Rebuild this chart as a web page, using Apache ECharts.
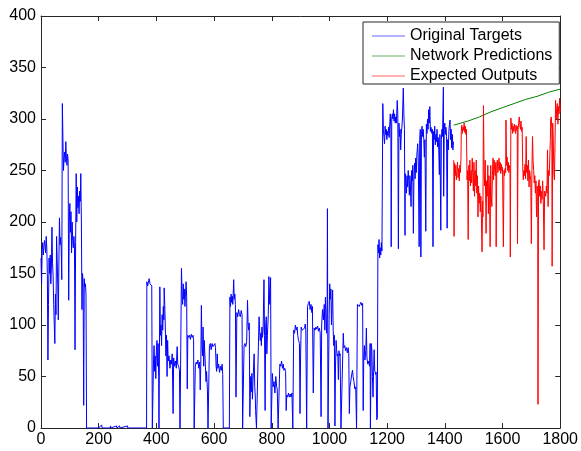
<!DOCTYPE html>
<html>
<head>
<meta charset="utf-8">
<title>Targets vs predictions</title>
<script src="https://cdn.jsdelivr.net/npm/echarts@6/dist/echarts.min.js"></script>
<style>
  html, body { margin: 0; padding: 0; background: #fff; }
  #chart { width: 581px; height: 451px; }
</style>
</head>
<body>
<div id="chart"></div>
<script>
// -- Axis ranges --
const X_TICKS = [0, 200, 400, 600, 800, 1000, 1200, 1400, 1600, 1800];
const Y_TICKS = [0, 50, 100, 150, 200, 250, 300, 350, 400];

// -- Series names --
const SERIES_NAMES = ['Original Targets', 'Network Predictions', 'Expected Outputs'];

// -- Original targets [step, value] --
const targets = [
  [0,165],[2,140],[4,172],[6,180],[8,168],[10,175],[12,182],[14,178],[16,170],[18,186],[20,176],[22,150],
  [24,66],[26,120],[28,165],[30,150],[32,168],[34,140],[36,155],[38,195],[40,160],[42,148],[44,120],[46,100],
  [48,82],[50,130],[52,110],[54,186],[56,165],[58,140],[60,105],[62,160],[64,204],[66,178],[68,185],[70,175],
  [72,144],[74,315],[76,280],[78,250],[80,262],[82,268],[84,258],[86,278],[88,262],[90,255],[92,266],[94,260],
  [96,124],[98,200],[100,218],[102,190],[104,210],[106,170],[108,200],[110,182],[112,175],[114,186],[116,176],
  [118,76],[120,180],[122,247],[124,200],[126,234],[128,214],[130,225],[132,208],[134,230],[136,220],[138,247],
  [140,200],[142,115],[144,150],[146,140],[148,22],[150,145],[152,137],[154,140],[156,130],[158,0],
  [200,0],[210,3],[212,0],[240,0],[241,2],[242,0],[262,2],[263,0],[272,2],[274,0],[300,2],[301,0],[366,0],
  [367,142],[370,138],[373,143],[375,145],[378,140],[381,141],[384,138],[386,0],[389,0],[390,63],[392,80],
  [394,55],[396,70],[398,48],[400,75],[402,85],[404,60],[406,82],[408,50],[409,0],[411,0],[412,137],[414,90],
  [416,100],[418,80],[420,110],[422,95],[424,118],[426,105],[427,136],[429,120],[431,98],[433,70],[435,90],
  [437,50],[439,85],[441,65],[444,70],[447,58],[450,66],[452,62],[455,72],[458,14],[460,68],[463,60],[466,65],
  [469,58],[472,79],[474,62],[477,60],[480,56],[482,0],[485,0],[487,155],[489,130],[491,120],[493,140],
  [495,125],[497,135],[499,118],[501,130],[503,142],[505,128],[507,38],[509,90],[512,88],[515,90],[518,86],
  [521,91],[524,88],[527,90],[529,86],[531,0],[533,0],[535,60],[538,64],[541,62],[544,66],[547,58],[550,64],
  [552,37],[554,62],[556,119],[558,80],[560,70],[562,98],[564,60],[566,85],[568,72],[570,60],[572,45],
  [574,55],[577,37],[579,0],[582,0],[584,80],[587,82],[590,76],[593,82],[596,79],[600,79],[603,82],[605,78],
  [607,60],[609,55],[611,72],[613,58],[616,62],[619,54],[622,60],[625,56],[628,62],[630,52],[632,0],[653,0],
  [655,127],[657,118],[659,130],[661,122],[663,128],[665,120],[667,135],[668,144],[670,125],[672,130],
  [674,120],[676,30],[679,112],[682,108],[685,115],[688,110],[691,108],[694,114],[697,110],[699,0],[702,0],
  [704,80],[707,82],[710,79],[713,84],[716,124],[718,100],[720,95],[722,102],[724,11],[727,50],[729,35],
  [731,53],[733,28],[735,45],[737,60],[739,72],[741,40],[743,30],[744,17],[747,0],[752,0],[756,108],[758,95],
  [760,85],[762,92],[764,80],[766,98],[768,88],[770,95],[773,144],[775,90],[777,17],[779,100],[781,108],
  [783,72],[785,90],[788,110],[790,147],[793,120],[796,146],[798,0],[801,0],[802,53],[805,40],[808,45],
  [811,34],[814,50],[817,40],[819,38],[822,0],[826,0],[828,62],[831,60],[834,65],[837,58],[840,62],[842,56],
  [845,58],[848,55],[850,17],[852,32],[855,30],[858,34],[861,30],[864,33],[867,30],[870,34],[873,0],[875,0],
  [876,95],[879,92],[882,100],[885,95],[888,98],[890,90],[893,85],[896,82],[898,14],[900,72],[902,98],
  [905,95],[908,96],[911,94],[914,97],[916,101],[918,95],[921,0],[923,0],[924,118],[927,121],[930,123],
  [933,115],[936,120],[939,112],[941,118],[944,34],[947,97],[950,95],[953,98],[956,96],[959,99],[962,94],
  [965,97],[968,92],[971,11],[973,100],[976,115],[979,105],[982,120],[984,95],[986,127],[988,110],[990,92],
  [992,120],[993,213],[995,0],[997,0],[999,110],[1001,140],[1003,125],[1005,135],[1007,100],[1009,120],
  [1011,134],[1013,95],[1015,80],[1017,90],[1019,2],[1021,60],[1023,85],[1025,76],[1027,70],[1029,72],
  [1031,47],[1033,75],[1035,70],[1037,72],[1040,0],[1046,0],[1048,92],[1050,78],[1053,80],[1056,75],
  [1059,78],[1062,73],[1065,78],[1067,72],[1069,14],[1071,40],[1074,45],[1077,52],[1080,56],[1082,50],
  [1085,45],[1088,38],[1091,40],[1094,0],[1096,0],[1097,120],[1100,121],[1103,118],[1106,120],[1109,122],
  [1112,119],[1115,121],[1117,17],[1119,70],[1121,80],[1123,66],[1126,75],[1128,97],[1130,68],[1133,62],
  [1136,65],[1139,60],[1141,82],[1142,0],[1144,0],[1145,82],[1147,76],[1149,50],[1151,30],[1153,55],
  [1155,76],[1157,56],[1160,52],[1162,54],[1164,8],[1166,10],[1168,178],[1170,170],[1172,183],[1174,165],
  [1176,175],[1178,168],[1180,180],[1182,172],[1185,315],[1187,290],[1189,283],[1191,276],[1193,293],
  [1195,285],[1197,290],[1199,280],[1201,288],[1203,284],[1205,292],[1207,282],[1209,295],[1211,305],
  [1213,290],[1214,176],[1216,301],[1218,305],[1220,300],[1222,309],[1224,298],[1226,305],[1228,296],
  [1230,302],[1232,296],[1235,318],[1237,305],[1239,174],[1241,296],[1243,283],[1245,290],[1247,270],
  [1249,285],[1251,292],[1253,300],[1256,330],[1258,305],[1260,290],[1262,187],[1263,247],[1265,240],
  [1267,228],[1269,245],[1271,234],[1273,250],[1275,240],[1277,226],[1279,245],[1281,232],[1283,215],
  [1285,250],[1287,240],[1289,255],[1291,189],[1293,245],[1295,257],[1297,242],[1299,262],[1301,248],
  [1303,265],[1306,276],[1308,260],[1311,176],[1313,280],[1315,290],[1317,166],[1319,285],[1321,293],
  [1323,283],[1325,290],[1327,280],[1329,263],[1331,280],[1334,191],[1336,295],[1338,286],[1340,300],
  [1342,290],[1344,309],[1346,296],[1348,312],[1350,288],[1352,292],[1355,286],[1357,290],[1359,176],
  [1361,288],[1363,280],[1365,293],[1367,275],[1369,285],[1371,278],[1373,290],[1375,273],[1377,282],
  [1379,270],[1381,246],[1383,285],[1386,192],[1388,280],[1390,290],[1392,283],[1395,331],[1396,225],
  [1398,290],[1400,296],[1402,285],[1404,292],[1406,283],[1408,194],[1410,280],[1412,270],[1414,288],
  [1416,295],[1418,299],[1420,280],[1422,290],[1424,272],[1426,285],[1428,270],[1430,278]
];

// -- Network predictions (smooth curve) --
const predictions = [
  [1431,294],[1480,298],[1520,302],[1560,307],[1600,311],[1640,315],[1680,319],[1720,322],[1760,326],[1800,329]
];

// -- Expected outputs --
const expected = [
  [1431,260],[1432,186],[1434,257],[1436,245],[1438,255],[1440,241],[1442,250],[1444,258],[1446,243],
  [1448,252],[1450,240],[1452,255],[1454,248],[1456,262],[1457,288],[1459,294],[1461,286],[1463,292],
  [1465,289],[1467,296],[1469,287],[1471,293],[1473,285],[1475,290],[1477,241],[1479,250],[1481,183],
  [1483,255],[1485,240],[1487,260],[1489,235],[1491,250],[1493,238],[1495,262],[1497,245],[1499,230],
  [1501,258],[1503,225],[1505,250],[1507,235],[1509,260],[1511,228],[1513,245],[1515,205],[1517,235],
  [1519,218],[1521,228],[1523,210],[1525,225],[1527,202],[1529,171],[1531,220],[1532,205],[1534,313],
  [1536,250],[1538,235],[1540,260],[1542,215],[1543,189],[1545,240],[1547,225],[1549,255],[1551,208],
  [1553,245],[1555,230],[1557,176],[1559,255],[1561,225],[1563,215],[1565,245],[1567,262],[1569,241],
  [1571,260],[1573,250],[1575,245],[1577,258],[1578,176],[1580,250],[1582,260],[1584,248],[1586,255],
  [1588,262],[1590,250],[1592,258],[1594,247],[1596,256],[1598,250],[1600,253],[1603,176],[1605,250],
  [1607,245],[1609,252],[1611,248],[1612,299],[1614,255],[1616,263],[1618,250],[1620,258],[1622,248],
  [1624,255],[1626,250],[1627,166],[1629,301],[1631,290],[1633,296],[1635,286],[1637,293],[1639,288],
  [1641,295],[1643,290],[1645,286],[1647,294],[1649,289],[1651,293],[1652,179],[1654,290],[1656,296],
  [1658,302],[1660,295],[1662,290],[1664,298],[1666,288],[1668,292],[1670,254],[1672,241],[1674,250],
  [1676,245],[1678,256],[1680,242],[1682,283],[1684,248],[1686,255],[1688,240],[1690,260],[1692,234],
  [1694,250],[1696,245],[1698,240],[1700,179],[1702,250],[1704,283],[1706,260],[1708,250],[1710,238],
  [1712,245],[1714,228],[1716,240],[1718,205],[1720,235],[1722,230],[1723,23],[1725,238],[1727,241],
  [1729,225],[1731,235],[1733,218],[1735,230],[1737,222],[1739,240],[1741,228],[1744,173],[1746,230],
  [1748,231],[1750,225],[1752,235],[1754,228],[1756,270],[1758,215],[1760,250],[1762,245],[1764,265],
  [1766,280],[1767,299],[1769,302],[1771,290],[1772,157],[1774,296],[1776,280],[1778,247],[1780,241],
  [1782,275],[1784,318],[1786,300],[1788,310],[1790,315],[1792,295],[1794,312],[1796,305],[1798,320],[1800,307]
];

// -- Styling --
const FONT = '"Liberation Sans", Arial, Helvetica, sans-serif';
const AXIS_COLOR = '#262626';
const COLORS = { targets: '#0000ff', predictions: '#008000', expected: '#ff0000' };

function boxAxis(type, position, showLabels, ticks) {
  return {
    type: 'value',
    position: position,
    min: ticks[0],
    max: ticks[ticks.length - 1],
    interval: ticks[1] - ticks[0],
    axisLine: { show: true, onZero: false, lineStyle: { color: AXIS_COLOR, width: 1 } },
    axisTick: { show: true, inside: true, length: 5, lineStyle: { color: AXIS_COLOR } },
    splitLine: { show: false },
    axisLabel: {
      show: showLabels,
      color: '#000',
      fontFamily: FONT,
      fontSize: 16,
      margin: type === 'x' ? 4 : 5,
      formatter: v => String(v)   // no thousands separator
    }
  };
}

function lineSeries(name, data, color) {
  return {
    name: name,
    type: 'line',
    data: data,
    symbol: 'none',
    sampling: null,
    lineStyle: { color: color, width: 1 },
    itemStyle: { color: color },
    emphasis: { disabled: true },
    clip: true
  };
}

const chart = echarts.init(document.getElementById('chart'), null, { renderer: 'canvas' });

chart.setOption({
  animation: false,
  backgroundColor: '#fff',
  grid: { left: 41, right: 17, top: 16, bottom: 23 },
  xAxis: [
    boxAxis('x', 'bottom', true, X_TICKS),
    boxAxis('x', 'top', false, X_TICKS)
  ],
  yAxis: [
    boxAxis('y', 'left', true, Y_TICKS),
    boxAxis('y', 'right', false, Y_TICKS)
  ],
  legend: {
    orient: 'vertical',
    left: 363,
    top: 22,
    padding: [6, 7, 0, 9],
    itemGap: 4,
    itemWidth: 33,
    itemHeight: 1,
    icon: 'rect',
    backgroundColor: '#fff',
    borderColor: AXIS_COLOR,
    borderWidth: 1,
    borderRadius: 0,
    selectedMode: false,
    textStyle: { color: '#000', fontFamily: FONT, fontSize: 16, lineHeight: 16 },
    data: SERIES_NAMES.map(name => ({
      name: name,
      itemStyle: { opacity: 0.6 },
      icon: 'rect'
    }))
  },
  series: [
    lineSeries(SERIES_NAMES[0], targets, COLORS.targets),
    lineSeries(SERIES_NAMES[1], predictions, COLORS.predictions),
    lineSeries(SERIES_NAMES[2], expected, COLORS.expected)
  ]
});
</script>
</body>
</html>
